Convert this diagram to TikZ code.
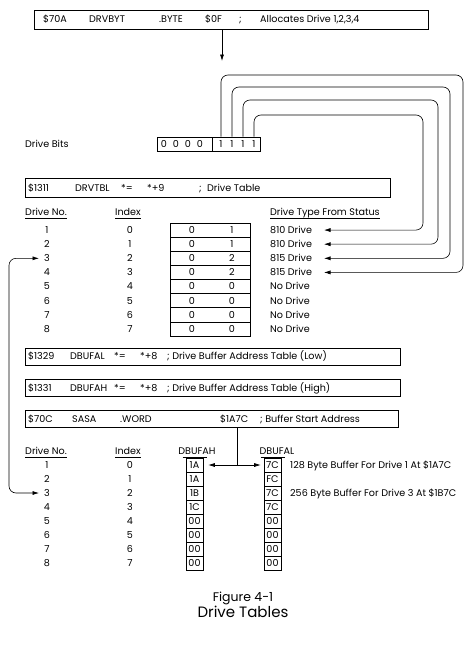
\documentclass[tikz,border=0pt]{standalone}
\usepackage{fontspec}
\setmainfont{Poppins}
\usetikzlibrary{arrows.meta}
\begin{document}
\begin{tikzpicture}[x=1pt,y=-1pt,
  txt/.style={inner sep=0pt,text height=6.8pt,text depth=0pt,anchor=west,font=\fontsize{9.6}{11.5}\selectfont},
  ctxt/.style={txt,anchor=center},
  asmbox/.style={draw,line width=0.7pt,inner sep=0pt},
  cellbox/.style={draw,line width=0.6pt,inner sep=0pt},
  wire/.style={draw,line width=0.6pt,rounded corners=7pt},
  arr/.style={-{Latex[length=6.5pt,width=4pt]}},
  darr/.style={{Latex[length=6.5pt,width=4pt]}-{Latex[length=6.5pt,width=4pt]}},
  uline/.style={draw,line width=0.5pt}
]
\useasboundingbox (0,0) rectangle (474,656);

% top box
\node[asmbox,minimum width=394pt,minimum height=19pt] (topbox) at (231,19.5) {};
\node[txt] (t70a) at (43,19.5) {\$70A};
\node[txt] (tdrvbyt) at (89,19.5) {DRVBYT};
\node[txt] (tbyte) at (159,19.5) {.BYTE};
\node[txt] (t0f) at (205,19.5) {\$0F};
\node[txt] (tsemi) at (239,19.5) {;};
\node[txt] (talloc) at (260,19.5) {Allocates Drive 1,2,3,4};
\coordinate (ah) at (222,61);
\draw[line width=0.6pt,arr] (topbox.south -| ah) -- (ah);

% drive bits
\node[txt] (dbits) at (25,144) {Drive Bits};
\node[cellbox,minimum width=103pt,minimum height=14pt] (bitbox) at (208.5,144) {};
\draw[line width=0.6pt] (212,137) -- (212,151);
\foreach \n/\x/\b in {0/164/0,1/176/0,2/188/0,3/200/0,4/221/1,5/232/1,6/243/1,7/254/1}
  \node[ctxt] (bb\n) at (\x,144) {\b};

% DRVTBL box
\node[asmbox,minimum width=365pt,minimum height=19pt] (drvtbl) at (207.5,188) {};
\node[txt] (s1311) at (28,188) {\$1311};
\node[txt] (sdrvtbl) at (75,188) {DRVTBL};
\node[txt] (seq1) at (121,188) {*=};
\node[txt] (sp9) at (147,188) {*+9};
\node[txt] (ssemi1) at (199,188) {;};
\node[txt] (sdt) at (207,188) {Drive Table};

% headers table 1
\node[ctxt] (hA1) at (46,212) {Drive No.};
\node[ctxt] (hA2) at (128,212) {Index};
\node[txt] (hA3) at (270,212) {Drive Type From Status};
\foreach \h in {hA1,hA2,hA3}
  \draw[uline] ([yshift=-2.5pt]\h.south west) -- ([yshift=-2.5pt]\h.south east);

% table 1 rows
\foreach \i/\v/\t in {1/1/810 Drive,2/1/810 Drive,3/2/815 Drive,4/2/815 Drive,5/0/No Drive,6/0/No Drive,7/0/No Drive,8/0/No Drive}{
  \pgfmathsetmacro\yy{230.06+14.125*(\i-1)}
  \pgfmathtruncatemacro\ix{\i-1}
  \node[ctxt] (dA\i) at (47,\yy) {\i};
  \node[ctxt] (iA\i) at (130,\yy) {\ix};
  \node[cellbox,minimum width=80pt,minimum height=14.125pt] (cA\i) at (210,\yy) {};
  \node[ctxt] (vA\i) at (192,\yy) {0};
  \node[ctxt] (wA\i) at (232,\yy) {\v};
  \node[txt] (tA\i) at (270,\yy) {\t};
  \coordinate (tip\i) at (324,\yy);
}

% wires from bits to drive types
\coordinate (k1) at (423,115);
\coordinate (k2) at (438,100);
\coordinate (k3) at (450,87);
\coordinate (k4) at (463,75);
\draw[wire,arr] (bb7 |- bitbox.north) |- (k1) |- (tip1);
\draw[wire,arr] (bb6 |- bitbox.north) |- (k2) |- (tip2);
\draw[wire,arr] (bb5 |- bitbox.north) |- (k3) |- (tip3);
\draw[wire,arr] (bb4 |- bitbox.north) |- (k4) |- (tip4);

% DBUFAL / DBUFAH / SASA boxes
\node[asmbox,minimum width=375pt,minimum height=17pt] (dbufalbox) at (212.5,356.5) {};
\node[txt] (u1a) at (28,356.5) {\$1329};
\node[txt] (u1b) at (70,356.5) {DBUFAL};
\node[txt] (u1c) at (114,356.5) {*=};
\node[txt] (u1d) at (140,356.5) {*+8};
\node[txt] (u1e) at (167,356.5) {; Drive Buffer Address Table (Low)};

\node[asmbox,minimum width=375pt,minimum height=17pt] (dbufahbox) at (212.5,388) {};
\node[txt] (u2a) at (28,388) {\$1331};
\node[txt] (u2b) at (70,388) {DBUFAH};
\node[txt] (u2c) at (114,388) {*=};
\node[txt] (u2d) at (140,388) {*+8};
\node[txt] (u2e) at (167,388) {; Drive Buffer Address Table (High)};

\node[asmbox,minimum width=373pt,minimum height=17pt] (sasabox) at (211.5,419) {};
\node[txt] (u3a) at (28,419) {\$70C};
\node[txt] (u3b) at (72,419) {SASA};
\node[txt] (u3c) at (120,419) {.WORD};
\node[txt] (u3d) at (220,419) {\$1A7C};
\node[txt] (u3e) at (260,419) {; Buffer Start Address};

% headers table 2
\node[ctxt] (hB1) at (46,451) {Drive No.};
\node[ctxt] (hB2) at (128,451) {Index};
\node[ctxt] (hB3) at (197,451) {DBUFAH};
\node[ctxt] (hB4) at (277,451) {DBUFAL};
\foreach \h in {hB1,hB2}
  \draw[uline] ([yshift=-2.5pt]\h.south west) -- ([yshift=-2.5pt]\h.south east);

% table 2 rows
\foreach \i/\ha/\la in {1/1A/7C,2/1A/FC,3/1B/7C,4/1C/7C,5/00/00,6/00/00,7/00/00,8/00/00}{
  \pgfmathsetmacro\yy{465+14*(\i-1)}
  \pgfmathtruncatemacro\ix{\i-1}
  \node[ctxt] (dB\i) at (47,\yy) {\i};
  \node[ctxt] (iB\i) at (130,\yy) {\ix};
  \node[cellbox,minimum width=17pt,minimum height=14pt] (ah\i) at (194.5,\yy) {};
  \node[ctxt] at (ah\i) {\ha};
  \node[cellbox,minimum width=17pt,minimum height=14pt] (al\i) at (272.5,\yy) {};
  \node[ctxt] at (al\i) {\la};
}
\draw[uline] ([xshift=-3pt]ah1.north west) -- ([xshift=4pt]ah1.north east);
\draw[uline] ([xshift=-3pt]al1.north west) -- ([xshift=4pt]al1.north east);

\node[txt] (n128) at (290,465) {128 Byte Buffer For Drive 1 At \$1A7C};
\node[txt] (n256) at (290,493) {256 Byte Buffer For Drive 3 At \$1B7C};

% SASA split arrow
\coordinate (sj) at (237,465);
\draw[line width=0.6pt] (sasabox.south -| sj) -- (sj);
\draw[line width=0.6pt,darr] ([xshift=5pt]ah1.east) -- ([xshift=-3pt]al1.west);

% left double arrow
\coordinate (la) at (39,258.31);
\coordinate (lb) at (39,493);
\coordinate (lx) at (9,376);
\draw[wire,darr] (la) -| (lx) |- (lb);

% caption
\node[font=\fontsize{12.5}{14}\selectfont,inner sep=0pt] (fig) at (243,598) {Figure 4-1};
\node[font=\fontsize{15}{17}\selectfont,inner sep=0pt] (cap) at (243,612) {Drive Tables};
\end{tikzpicture}
\end{document}
